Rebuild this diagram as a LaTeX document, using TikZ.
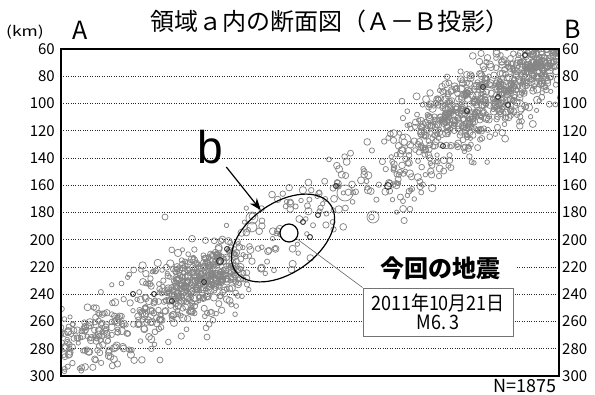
\documentclass[tikz,border=0pt]{standalone}
\usepackage{fontspec}
\setmainfont{Noto Sans CJK JP}
\newfontfamily\latinfont{Liberation Sans}
\usetikzlibrary{arrows.meta}
\usetikzlibrary{calc}
\usetikzlibrary{positioning}
\usetikzlibrary{shapes.geometric}

\begin{document}
\begin{tikzpicture}[x=1pt, y=-1pt,
      frame line/.style={line width=1.6pt},
      grid line/.style={dash pattern=on 1pt off 1.4pt, line width=0.9pt, black!85},
      quake/.style={draw=black!48, line width=0.75pt},
      dark quake/.style={draw=black!80, line width=0.9pt},
      depth label/.style={font=\fontsize{15}{15}\selectfont, inner sep=1pt},
      region/.style={ellipse, draw, line width=1.2pt, inner sep=0pt},
      pointer/.style={-{Stealth[length=12pt, width=9pt]}, line width=1.2pt},
      leader/.style={draw=black!60, line width=0.6pt},
      info box/.style={draw=black!55, fill=white, line width=0.8pt, align=center,
                       minimum width=150pt, minimum height=48pt, inner sep=1pt,
                       font=\fontsize{18}{18}\selectfont}
      ]
      \useasboundingbox (0,0) rectangle (595,394);

      % frame and depth grid
      \coordinate (plot nw) at (61,49);
      \coordinate (plot se) at (559,376);
      \foreach \d in {80,100,...,280}{
        \pgfmathsetmacro\yy{49+(\d-60)*1.3625}
        \draw[grid line] (61,\yy) -- (559,\yy);
      }
      \foreach \d in {60,80,...,300}{
        \pgfmathsetmacro\yy{49+(\d-60)*1.3625}
        \node[depth label, anchor=east] (left \d) at (56,\yy) {\d};
        \node[depth label, anchor=west] (right \d) at (561,\yy) {\d};
      }

      % hypocentres
      \begin{scope}
        \clip (plot nw) rectangle (plot se);
        \pgfmathsetseed{1875}
        \foreach \xa/\ya/\xb/\yb/\w/\cnt in {
            62/350/245/262/40/400,
            170/288/235/270/28/230,
            245/255/400/160/42/130,
            395/165/560/55/48/430,
            430/120/520/85/30/230,
            520/70/560/52/20/110}{
          \foreach \i in {1,...,\cnt}{
            \pgfmathsetmacro\t{rnd}
            \pgfmathsetmacro\px{\xa+\t*(\xb-\xa)+6*rand}
            \pgfmathsetmacro\py{\ya+\t*(\yb-\ya)+\w*(rand+rand+rand)/2}
            \pgfmathsetmacro\r{2.1+1.6*rnd}
            \draw[quake] (\px,\py) circle (\r pt);
          }
        }
        \foreach \x/\y/\r in {252/218/6, 345/193/8, 517/107/8, 543/63/8, 530/48/7,
                              405/140/6, 373/217/6, 252/227/5, 165/217/3, 207/337/3, 160/360/3}
          \draw[quake] (\x,\y) circle (\r pt);
        \foreach \x/\y/\r in {133/294/2.5, 154/294/2.5, 172/301/2.5, 204/282/2.5, 220/261/3.5,
                              227/249/2.5, 336/186/2.5, 388/186/3.5, 443/146/2.5, 467/111/2.5,
                              498/97/2.5, 508/105/2.5, 483/87/2.5, 525/55/2.5, 303/222/2.5,
                              318/215/2.5, 310/237/2.5}
          \draw[dark quake] (\x,\y) circle (\r pt);
      \end{scope}
      \draw[frame line] (plot nw) rectangle (plot se);

      % titles
      \node[font=\fontsize{24}{24}\selectfont] (title) at (330,21) {領域ａ内の断面図（Ａ－Ｂ投影）};
      \node[font=\fontsize{25}{25}\selectfont] (end A) at (80,30) {A};
      \node[font=\fontsize{25}{25}\selectfont] (end B) at (573,29) {B};
      \node[font=\fontsize{14}{14}\selectfont] (unit) at (25,32) {\scalebox{1.25}[1]{(km)}};
      \node[anchor=east, inner sep=1pt, font=\fontsize{18}{18}\selectfont] (count) at (558,386) {N=1875};

      % region b
      \node[region, minimum width=116pt, minimum height=70pt, rotate=35] (region b) at (283,238) {};
      \node[anchor=base, font=\latinfont\fontsize{46}{46}\selectfont] (label b) at (210,163) {b};
      \draw[pointer] (label b) -- (region b);

      % this earthquake
      \node[circle, draw, fill=white, line width=1.2pt, minimum size=18pt, inner sep=0pt] (main quake) at (289,233) {};
      \node[info box] (quake info) at (438,312) {\scalebox{1}[1.1]{2011年10月21日}\\[1pt]\scalebox{1}[1.1]{M6.\kern3pt 3}};
      \draw[leader] (main quake) -- (quake info.north west);
      \node[fill=white, inner xsep=16pt, inner ysep=2pt, font=\fontsize{24}{24}\selectfont\bfseries] (quake title) at (440,268)
           {今回の地震};
\end{tikzpicture}
\end{document}
